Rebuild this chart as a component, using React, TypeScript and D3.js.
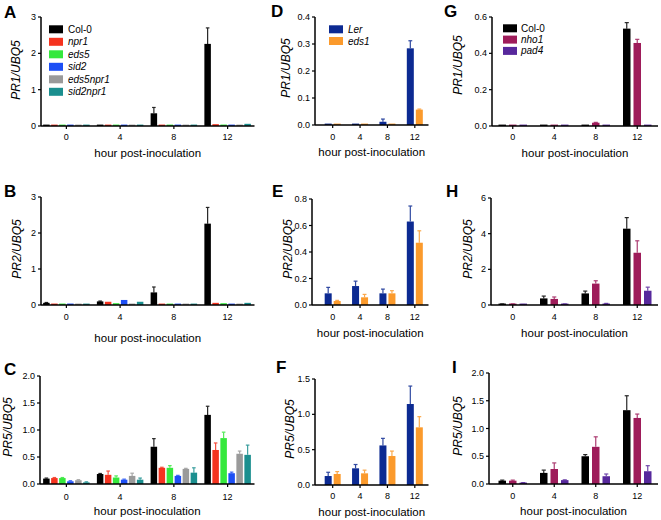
import React from "react";
import * as d3 from "d3";

const hours = ["0", "4", "8", "12"];

// Panels A-C series
const seriesABC = ["Col-0", "npr1", "eds5", "sid2", "eds5npr1", "sid2npr1"];
const colorsABC = ["#000000", "#f5331f", "#35e83c", "#1d4ff5", "#9a9a9a", "#1b8f8f"];

const pr1A = [
  [0.03, 0.03, 0.35, 2.26],
  [0.01, 0.02, 0.01, 0.05],
  [0.01, 0.01, 0.01, 0.04],
  [0.01, 0.01, 0.01, 0.02],
  [0.01, 0.01, 0.01, 0.02],
  [0.01, 0.01, 0.01, 0.06],
];
const pr1AErr = [
  [0, 0, 0.16, 0.44],
  [0, 0, 0, 0],
  [0, 0, 0, 0],
  [0, 0, 0, 0],
  [0, 0, 0, 0],
  [0, 0, 0, 0],
];
const pr2B = [
  [0.06, 0.1, 0.35, 2.26],
  [0.04, 0.09, 0.01, 0.06],
  [0.04, 0.05, 0.01, 0.05],
  [0.04, 0.14, 0.01, 0.02],
  [0.02, 0.04, 0.01, 0.02],
  [0.03, 0.09, 0.01, 0.06],
];
const pr2BErr = [
  [0.01, 0.01, 0.15, 0.45],
  [0, 0, 0, 0],
  [0, 0, 0, 0],
  [0, 0, 0, 0],
  [0, 0, 0, 0],
  [0, 0, 0, 0],
];
const pr5C = [
  [0.1, 0.185, 0.69, 1.28],
  [0.11, 0.17, 0.3, 0.63],
  [0.11, 0.12, 0.3, 0.85],
  [0.05, 0.08, 0.15, 0.2],
  [0.07, 0.15, 0.28, 0.56],
  [0.03, 0.08, 0.21, 0.54],
];
const pr5CErr = [
  [0.01, 0.01, 0.15, 0.16],
  [0.01, 0.07, 0.01, 0.13],
  [0.01, 0.03, 0.04, 0.11],
  [0.01, 0.01, 0.01, 0.02],
  [0.01, 0.05, 0.01, 0.05],
  [0.01, 0.03, 0.09, 0.18],
];

// Panels D-F
const seriesDEF = ["Ler", "eds1"];
const colorsDEF = ["#0c2a92", "#fb9a2c"];
const pr1D = [
  [0.002, 0.004, 0.012, 0.284],
  [0.001, 0.001, 0.002, 0.057],
];
const pr1DErr = [
  [0, 0, 0.01, 0.028],
  [0, 0, 0, 0.002],
];
const pr2E = [
  [0.088, 0.143, 0.088, 0.63],
  [0.03, 0.058, 0.088, 0.47],
];
const pr2EErr = [
  [0.045, 0.037, 0.032, 0.117],
  [0.005, 0.022, 0.02, 0.09],
];
const pr5F = [
  [0.127, 0.236, 0.56, 1.146],
  [0.156, 0.165, 0.41, 0.816],
];
const pr5FErr = [
  [0.053, 0.054, 0.1, 0.254],
  [0.034, 0.045, 0.07, 0.151],
];

// Panels G-I
const seriesGHI = ["Col-0", "nho1", "pad4"];
const colorsGHI = ["#000000", "#9e1c5a", "#57289c"];
const pr1G = [
  [0.002, 0.006, 0.006, 0.536],
  [0.001, 0.002, 0.018, 0.457],
  [0.001, 0.001, 0.001, 0.002],
];
const pr1GErr = [
  [0, 0, 0, 0.033],
  [0, 0, 0.002, 0.02],
  [0, 0, 0, 0],
];
const pr2H = [
  [0.05, 0.37, 0.65, 4.28],
  [0.05, 0.34, 1.2, 2.93],
  [0.02, 0.05, 0.08, 0.8],
];
const pr2HErr = [
  [0.01, 0.13, 0.13, 0.62],
  [0.01, 0.11, 0.16, 0.67],
  [0.01, 0.01, 0.01, 0.2],
];
const pr5I = [
  [0.06, 0.2, 0.5, 1.33],
  [0.06, 0.27, 0.67, 1.19],
  [0.02, 0.07, 0.14, 0.23],
];
const pr5IErr = [
  [0.01, 0.05, 0.03, 0.26],
  [0.01, 0.11, 0.18, 0.07],
  [0.005, 0.005, 0.04, 0.1],
];

const FONT = "'Liberation Sans', Arial, Helvetica, sans-serif";

type PanelProps = {
  letter: string;
  letterX: number;
  letterY: number;
  yTitle: string;
  titleX: number;
  titleY: number;
  axisX: number;
  xRange: [number, number];
  yRange: [number, number];
  yMax: number;
  yTicks: number[];
  yFmt: string;
  series: string[];
  colors: string[];
  values: number[][];
  errors: number[][];
  barStep: number;
  barW: number;
  tickLabelGap: number;
  xLabelGap: number;
  legend?: { x: number; y: number; step: number; textX: number };
};

function Panel(p: PanelProps) {
  const x = d3.scaleBand<string>().domain(hours).range(p.xRange).padding(0);
  const y = d3.scaleLinear().domain([0, p.yMax]).range(p.yRange);
  const n = p.series.length;
  const inner = d3
    .scaleBand<number>()
    .domain(d3.range(n))
    .range([-(n * p.barStep) / 2, (n * p.barStep) / 2]);
  const fmt = d3.format(p.yFmt);
  const y0 = y(0);
  const xEnd = p.xRange[1];
  const xMid = (p.axisX + xEnd) / 2;
  return (
    <g>
      <text x={p.letterX} y={p.letterY} fontSize={17} fontWeight="bold" fontFamily={FONT}>
        {p.letter}
      </text>
      <text
        transform={`translate(${p.titleX},${p.titleY}) rotate(-90)`}
        textAnchor="middle"
        dominantBaseline="central"
        fontSize={12}
        fontStyle="italic"
        fontFamily={FONT}
      >
        {p.yTitle}
      </text>
      {p.values.map((vals, si) =>
        vals.map((v, hi) => {
          const cx = (x(hours[hi]) as number) + x.bandwidth() / 2 + (inner(si) as number) + inner.bandwidth() / 2;
          const top = y(v);
          const h = Math.max(y0 - top, 1.4);
          const e = p.errors[si][hi];
          const et = y(v + e);
          const cap = p.barW * 0.55;
          return (
            <g key={`${si}-${hi}`}>
              {e > 0 && (
                <g stroke={p.colors[si]} strokeWidth={1.2} opacity={0.85}>
                  <line x1={cx} x2={cx} y1={top} y2={et} />
                  <line x1={cx - cap / 2} x2={cx + cap / 2} y1={et} y2={et} />
                </g>
              )}
              <rect x={cx - p.barW / 2} y={y0 - h} width={p.barW} height={h} fill={p.colors[si]} />
            </g>
          );
        })
      )}
      {/* y axis */}
      <line x1={p.axisX} x2={p.axisX} y1={y(p.yMax)} y2={y0} stroke="#000" strokeWidth={1.5} />
      {p.yTicks.map((t) => (
        <g key={t}>
          <line x1={p.axisX - 3} x2={p.axisX} y1={y(t)} y2={y(t)} stroke="#000" strokeWidth={1.2} />
          <text
            x={p.axisX - 5}
            y={y(t)}
            textAnchor="end"
            dominantBaseline="central"
            fontSize={9}
            fontFamily={FONT}
          >
            {fmt(t)}
          </text>
        </g>
      ))}
      {/* x axis */}
      <line x1={p.axisX} x2={xEnd} y1={y0} y2={y0} stroke="#000" strokeWidth={1.5} />
      {hours.map((hh) => {
        const cx = (x(hh) as number) + x.bandwidth() / 2;
        return (
          <g key={hh}>
            <line x1={cx} x2={cx} y1={y0} y2={y0 + 3} stroke="#000" strokeWidth={1.2} />
            <text
              x={cx}
              y={y0 + p.tickLabelGap}
              textAnchor="middle"
              dominantBaseline="central"
              fontSize={9}
              fontFamily={FONT}
            >
              {hh}
            </text>
          </g>
        );
      })}
      <text
        x={xMid}
        y={y0 + p.xLabelGap}
        textAnchor="middle"
        dominantBaseline="central"
        fontSize={11.5}
        fontFamily={FONT}
      >
        hour post-inoculation
      </text>
      {p.legend &&
        p.series.map((s, i) => {
          const ly = p.legend!.y + i * p.legend!.step;
          return (
            <g key={s}>
              <rect x={p.legend!.x} y={ly - 4} width={14} height={8} fill={p.colors[i]} />
              <text
                x={p.legend!.textX}
                y={ly}
                dominantBaseline="central"
                fontSize={10}
                fontStyle={s === "Col-0" ? "normal" : "italic"}
                fontFamily={FONT}
              >
                {s}
              </text>
            </g>
          );
        })}
    </g>
  );
}

export default function App() {
  const colABC = { axisX: 41, xRange: [39.5, 254.5] as [number, number], series: seriesABC, colors: colorsABC, barStep: 8, barW: 6.5 };
  const colDEF = { xRange: [319, 428.5] as [number, number], series: seriesDEF, colors: colorsDEF, barStep: 9, barW: 7 };
  const colGHI = { xRange: [492, 658] as [number, number], series: seriesGHI, colors: colorsGHI, barStep: 10.5, barW: 7.5 };
  return (
    <svg
      width={661}
      height={520}
      style={{ position: "absolute", left: 0, top: 0, background: "#fff" }}
    >
      <rect width={661} height={520} fill="#fff" />
      <Panel
        {...colABC}
        letter="A" letterX={4} letterY={18}
        yTitle="PR1/UBQ5" titleX={16} titleY={70}
        yRange={[126, 17]} yMax={3} yTicks={[0, 1, 2, 3]} yFmt="d"
        values={pr1A} errors={pr1AErr}
        tickLabelGap={11} xLabelGap={27}
        legend={{ x: 49, y: 29.3, step: 12.5, textX: 68 }}
      />
      <Panel
        {...colABC}
        letter="B" letterX={4} letterY={197}
        yTitle="PR2/UBQ5" titleX={17} titleY={249}
        yRange={[305, 197]} yMax={3} yTicks={[0, 1, 2, 3]} yFmt="d"
        values={pr2B} errors={pr2BErr}
        tickLabelGap={12} xLabelGap={33}
      />
      <Panel
        {...colABC}
        axisX={40}
        letter="C" letterX={4} letterY={375}
        yTitle="PR5/UBQ5" titleX={8} titleY={427}
        yRange={[484, 376]} yMax={2} yTicks={[0, 0.5, 1, 1.5, 2]} yFmt=".1f"
        values={pr5C} errors={pr5CErr}
        tickLabelGap={12.5} xLabelGap={27}
      />
      <Panel
        {...colDEF}
        axisX={315}
        letter="D" letterX={271} letterY={17}
        yTitle="PR1/UBQ5" titleX={286} titleY={68}
        yRange={[125, 17]} yMax={0.4} yTicks={[0, 0.1, 0.2, 0.3, 0.4]} yFmt=".1f"
        values={pr1D} errors={pr1DErr}
        tickLabelGap={12} xLabelGap={27}
        legend={{ x: 329, y: 29.3, step: 11.7, textX: 348 }}
      />
      <Panel
        {...colDEF}
        axisX={312}
        letter="E" letterX={272} letterY={197}
        yTitle="PR2/UBQ5" titleX={288} titleY={249}
        yRange={[305, 199]} yMax={0.8} yTicks={[0, 0.2, 0.4, 0.6, 0.8]} yFmt=".1f"
        values={pr2E} errors={pr2EErr}
        tickLabelGap={12} xLabelGap={28}
      />
      <Panel
        {...colDEF}
        axisX={315}
        letter="F" letterX={276} letterY={373}
        yTitle="PR5/UBQ5" titleX={290} titleY={429}
        yRange={[485, 379]} yMax={1.5} yTicks={[0, 0.5, 1, 1.5]} yFmt=".1f"
        values={pr5F} errors={pr5FErr}
        tickLabelGap={11} xLabelGap={27}
      />
      <Panel
        {...colGHI}
        axisX={492}
        letter="G" letterX={444} letterY={17}
        yTitle="PR1/UBQ5" titleX={458} titleY={65}
        yRange={[126, 17]} yMax={0.6} yTicks={[0, 0.2, 0.4, 0.6]} yFmt=".1f"
        values={pr1G} errors={pr1GErr}
        tickLabelGap={11} xLabelGap={27}
        legend={{ x: 503, y: 28.3, step: 11.3, textX: 521 }}
      />
      <Panel
        {...colGHI}
        axisX={491}
        letter="H" letterX={446} letterY={197}
        yTitle="PR2/UBQ5" titleX={468} titleY={249}
        yRange={[305, 198]} yMax={6} yTicks={[0, 2, 4, 6]} yFmt="d"
        values={pr2H} errors={pr2HErr}
        tickLabelGap={12} xLabelGap={28}
      />
      <Panel
        {...colGHI}
        axisX={489}
        letter="I" letterX={452} letterY={373}
        yTitle="PR5/UBQ5" titleX={458} titleY={426}
        yRange={[484, 373]} yMax={2} yTicks={[0, 0.5, 1, 1.5, 2]} yFmt=".1f"
        values={pr5I} errors={pr5IErr}
        tickLabelGap={12} xLabelGap={27}
      />
    </svg>
  );
}
